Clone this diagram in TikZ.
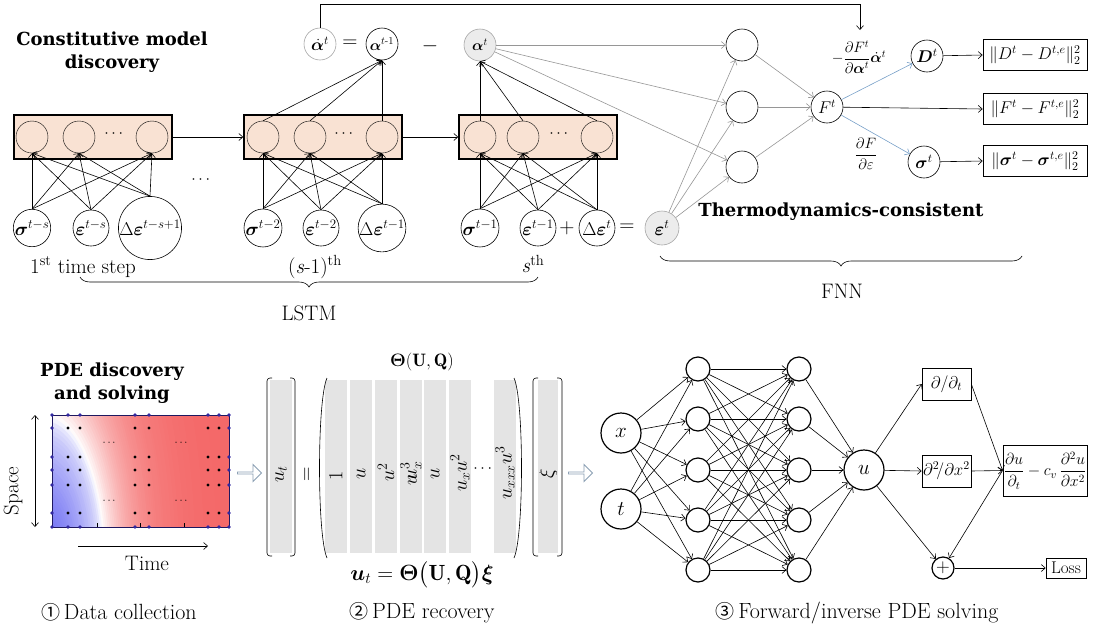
\RequirePackage{fix-cm}
\documentclass[tikz,border=0pt]{standalone}
\usepackage{amsmath,amssymb,bm}
\usepackage{fontspec}
\newfontfamily\titlefont{DejaVu Serif}
\newfontfamily\symfont{Noto Sans CJK SC}
\usetikzlibrary{arrows.meta,decorations.pathreplacing,shapes.arrows,calc}
\definecolor{peach}{RGB}{249,226,211}
\definecolor{fnngray}{RGB}{150,150,150}
\definecolor{lightc}{RGB}{236,236,236}
\definecolor{bluearr}{RGB}{120,160,200}
\definecolor{colgray}{RGB}{228,228,228}
\definecolor{hollow}{RGB}{140,160,180}
\definecolor{heatred}{RGB}{242,80,80}
\definecolor{heatblue}{RGB}{80,80,240}
\definecolor{dotblue}{RGB}{50,40,160}
\tikzset{
  >={Straight Barb[length=4pt,width=7pt]},
  every node/.style={font=\fontsize{16}{18}\selectfont},
  capt/.style={font=\fontsize{21}{23}\selectfont},
  big/.style={font=\fontsize{21}{23}\selectfont},
  ttl/.style={font=\titlefont\bfseries\fontsize{18}{23}\selectfont, align=center},
  lcell/.style={circle,draw,thin,fill=peach,minimum size=32pt,inner sep=0pt},
  lbox/.style={draw,line width=1.5pt,fill=peach,minimum width=158pt,minimum height=44pt,inner sep=0pt},
  incir/.style={circle,draw,minimum size=36pt,inner sep=0pt,font=\fontsize{18.5}{20}\selectfont},
  tcir/.style={circle,draw,minimum size=32pt,inner sep=0pt,font=\fontsize{17}{19}\selectfont},
  gcir/.style={circle,draw=gray!70,fill=lightc,minimum size=34pt,inner sep=0pt,font=\fontsize{18.5}{20}\selectfont},
  lossbox/.style={draw,minimum width=104pt,minimum height=31pt,inner sep=0pt,font=\fontsize{17}{19}\selectfont},
  harrow/.style={single arrow,draw=hollow,fill=white,minimum height=24pt,minimum width=17pt,single arrow head extend=3.5pt,inner sep=0pt,line width=0.9pt},
  rot/.style={rotate=90,font=\fontsize{20}{22}\selectfont},
  pbig/.style={circle,draw,line width=1.2pt,minimum size=40pt,inner sep=0pt,font=\fontsize{21}{23}\selectfont},
  psmall/.style={circle,draw,line width=1.2pt,minimum size=24pt,inner sep=0pt},
  pbox/.style={draw,inner sep=2pt,font=\fontsize{17}{19}\selectfont},
  brc/.style={decorate,decoration={brace,mirror,amplitude=10pt}},
}
\newcommand{\cnum}[1]{{\symfont\fontsize{19}{21}\selectfont #1}}
\begin{document}
\begin{tikzpicture}[x=1pt,y=-1pt,line width=0.6pt]
\useasboundingbox (0,0) rectangle (1093,627);
% ---------- Top: constitutive model ----------
\node[ttl] (title1) at (112,52) {Constitutive model\\discovery};
% LSTM boxes
\node[lbox] (B1) at (93,137) {};
\node[lbox] (B2) at (323,137) {};
\node[lbox] (B3) at (538,137) {};
\node[lcell] (c11) at (32,137) {};
\node[lcell] (c12) at (79,137) {};
\node[lcell] (c13) at (152,137) {};
\node (d1) at (115,134) {$\cdots$};
\node[lcell] (c21) at (263,137) {};
\node[lcell] (c22) at (310,137) {};
\node[lcell] (c23) at (382,137) {};
\node (d2) at (345,134) {$\cdots$};
\node[lcell] (c31) at (480,137) {};
\node[lcell] (c32) at (523,137) {};
\node[lcell] (c33) at (597,137) {};
\node (d3) at (560,134) {$\cdots$};
\draw[->] (B1.east) -- (B2.west);
\draw[->] (B2.east) -- (B3.west);
% inputs
\node[incir] (i11) at (32,228) {$\bm\sigma^{t-s}$};
\node[incir] (i12) at (91,228) {$\bm\varepsilon^{t-s}$};
\node[incir] (i13) at (150,228) {$\Delta\bm\varepsilon^{t-s+1}$};
\node[incir] (i21) at (263,228) {$\bm\sigma^{t-2}$};
\node[incir] (i22) at (321,228) {$\bm\varepsilon^{t-2}$};
\node[incir] (i23) at (382,228) {$\Delta\bm\varepsilon^{t-1}$};
\node[incir] (i31) at (480,228) {$\bm\sigma^{t-1}$};
\node[incir] (i32) at (538,228) {$\bm\varepsilon^{t-1}$};
\node[incir] (i33) at (597,228) {$\Delta\bm\varepsilon^{t}$};
\node[big] (plus1) at (567,228) {$+$};
\node[big] (eq2) at (627,228) {$=$};
\node[gcir] (et) at (662,228) {$\bm\varepsilon^{t}$};
\node (dmid) at (202,180) {$\cdots$};
\foreach \b in {1,2,3}{
  \foreach \i in {1,2,3}{
    \foreach \j in {1,2,3}{
      \draw[->] (i\b\i.north) -- (c\b\j.south);
    }
  }
}
% top row
\node[tcir,draw=gray!70] (ad) at (320,44) {$\dot{\bm\alpha}^t$};
\node[big] (eq1) at (350,44) {$=$};
\node[tcir,font=\fontsize{15}{17}\selectfont] (a1) at (382,44) {$\bm\alpha^{t\text{-}1}$};
\node[big] (minus1) at (430,46) {$-$};
\node[tcir,draw=gray!70,fill=lightc,font=\fontsize{15}{17}\selectfont] (a2) at (480,45) {$\bm\alpha^{t}$};
\foreach \j in {1,2,3}{
  \draw[->] (c2\j.north) -- (a1.south);
  \draw[->] (c3\j.north) -- (a2.south);
}
% feedback
\coordinate (fb2) at (860,4);
\coordinate (fbend) at (860,30);
\draw[->] (ad.north) |- (fb2) -- (fbend);
% FNN
\node[tcir] (h1) at (742,45) {};
\node[tcir] (h2) at (742,107) {};
\node[tcir] (h3) at (742,167) {};
\node[tcir] (F) at (827,107) {$F^t$};
\node[tcir] (D) at (927,56) {$\bm D^t$};
\node[tcir] (S) at (924,162) {$\bm\sigma^t$};
\foreach \h in {h1,h2,h3}{
  \draw[fnngray,->] (a2) -- (\h);
  \draw[fnngray,->] (et) -- (\h);
  \draw[fnngray,->] (\h) -- (F);
}
\draw[bluearr,->] (F) -- (D);
\draw[bluearr,->] (F) -- (S);
\node[lossbox] (L1) at (1035,55) {$\|D^t-D^{t,e}\|_2^2$};
\node[lossbox] (L2) at (1035,109) {$\|F^t-F^{t,e}\|_2^2$};
\node[lossbox] (L3) at (1035,161) {$\|\bm\sigma^t-\bm\sigma^{t,e}\|_2^2$};
\draw[->] (D) -- (L1.west);
\draw[->] (F) -- (L2.west);
\draw[->] (S) -- (L3.west);
\node[font=\fontsize{15}{17}\selectfont] (lab1) at (859,57) {$-\dfrac{\partial F^t}{\partial\bm\alpha^t}\dot{\bm\alpha}^t$};
\node[font=\fontsize{15}{17}\selectfont] (lab2) at (866,154) {$\dfrac{\partial F}{\partial\varepsilon}$};
\node[ttl] (thermo) at (841,212) {Thermodynamics-consistent};
% labels and braces
\node[capt] (step1) at (83,267) {1\textsuperscript{st} time step};
\node[capt] (steps1) at (315,267) {(\textit{s}-1)\textsuperscript{th}};
\node[capt] (steps) at (533,264) {\textit{s}\textsuperscript{th}};
\draw[brc] (80,277) -- (538,277);
\node[capt] (lstm) at (309,313) {LSTM};
\draw[brc] (660,256) -- (1022,256);
\node[capt] (fnn) at (842,291) {FNN};
% ---------- Bottom left: data ----------
\node[ttl] (title2) at (112,383) {PDE discovery\\and solving};
\begin{scope}
\clip (52,415) rectangle (229,527);
\fill[heatred] (52,415) rectangle (229,527);
\foreach \i in {110,109,...,1}{
  \pgfmathsetmacro\rr{\i*0.03}
  \ifnum\i>33
    \pgfmathtruncatemacro\p{88*(1-exp(-(\rr-1)/0.5))}
    \fill[heatred!\p!white] (44,560) ellipse [x radius=\rr*60, y radius=\rr*145];
  \else
    \pgfmathtruncatemacro\p{92*((1-\rr)^0.55)}
    \fill[heatblue!\p!white] (44,560) ellipse [x radius=\rr*60, y radius=\rr*145];
  \fi
}
\end{scope}
\draw[dotblue!60!black,thin] (52,415) rectangle (229,527);
\foreach \x in {97,140,184} \draw[thin] (\x,527) -- (\x,523);
\foreach \x in {52,68,80,135,149,208,219,229}{
  \fill[dotblue] (\x,415) circle (1.8);
  \fill[dotblue] (\x,527) circle (1.8);
}
\foreach \y in {428,457,470,485,513}{
  \fill[dotblue] (52,\y) circle (1.8);
  \fill[dotblue] (229,\y) circle (1.8);
  \foreach \x in {68,80,135,149,208,219} \fill[black] (\x,\y) circle (1.6);
}
\node[font=\fontsize{11}{11}\selectfont] (hd1) at (110,443) {$\cdots$};
\node[font=\fontsize{11}{11}\selectfont] (hd2) at (182,443) {$\cdots$};
\node[font=\fontsize{11}{11}\selectfont] (hd3) at (110,501) {$\cdots$};
\node[font=\fontsize{11}{11}\selectfont] (hd4) at (182,501) {$\cdots$};
\coordinate (sp1) at (35,415);
\coordinate (sp2) at (35,527);
\draw[<->] (sp1) -- (sp2);
\node[capt,rotate=90] (space) at (13,491) {Space};
\coordinate (tm1) at (78,546);
\coordinate (tm2) at (208,546);
\draw[->] (tm1) -- (tm2);
\node[capt] (time) at (147,563) {Time};
\node[capt,font=\fontsize{22}{24}\selectfont] (cap1) at (119,612) {\cnum{①}\,Data collection};
\node[harrow] (ha1) at (249,473) {};
% ---------- Bottom middle: PDE recovery ----------
\fill[colgray] (270,380) rectangle (292,553);
\draw[rounded corners=3pt] (272,378) -- (267,378) -- (267,556) -- (272,556);
\draw[rounded corners=3pt] (290,378) -- (295,378) -- (295,556) -- (290,556);
\node[rot] (ut) at (281,474) {$u_t$};
\node[rot] (eqm) at (308,474) {$=$};
\foreach \a/\b in {325/347,350/372,375/397,400/422,424/446,449/471,494/516}
  \fill[colgray] (\a,380) rectangle (\b,553);
\draw (327,378) .. controls (317,400) and (317,536) .. (327,558);
\draw (514,378) .. controls (524,400) and (524,536) .. (514,558);
\node[rot] (m1) at (336,476) {$1$};
\node[rot] (m2) at (361,474) {$u$};
\node[rot] (m3) at (386,472) {$u^2$};
\node[rot] (m4) at (411,473) {$u\kern-6pt u_x^3$};
\node[rot] (m5) at (435,474) {$u$};
\node[rot] (m6) at (460,473) {$u_xu^2$};
\node (mdots) at (484,469) {$\cdots$};
\node[rot] (m7) at (505,473) {$u_{xxx}u^3$};
\fill[colgray] (538,380) rectangle (558,553);
\draw[rounded corners=3pt] (538,378) -- (533,378) -- (533,556) -- (538,556);
\draw[rounded corners=3pt] (557,378) -- (562,378) -- (562,556) -- (557,556);
\node[rot] (xi) at (548,474) {$\xi$};
\node[font=\fontsize{18}{20}\selectfont] (theta) at (422,362) {$\bm\Theta(\mathbf U,\mathbf Q)$};
\node[font=\fontsize{22}{24}\selectfont] (eqn) at (422,575) {$\bm u_t=\bm\Theta\big(\mathbf U,\mathbf Q\big)\bm\xi$};
\node[capt,font=\fontsize{22}{24}\selectfont] (cap2) at (422,613) {\cnum{②}\,PDE recovery};
\node[harrow] (ha2) at (580,473) {};
% ---------- Bottom right: PINN ----------
\node[pbig] (x) at (621,433) {$x$};
\node[pbig] (t) at (621,509) {$t$};
\foreach \k/\yy in {1/369,2/419,3/470,4/520,5/570}{
  \node[psmall] (p\k) at (698,\yy) {};
  \node[psmall] (q\k) at (799,\yy) {};
}
\node[pbig] (u) at (864,470) {$u$};
\foreach \k in {1,...,5}{
  \draw[->] (x) -- (p\k);
  \draw[->] (t) -- (p\k);
  \draw[->] (q\k) -- (u);
  \foreach \m in {1,...,5} \draw[->] (p\k) -- (q\m);
}
\node[pbox,minimum width=49pt,minimum height=32pt] (DT) at (946.5,384) {$\partial/\partial_t$};
\node[pbox,minimum width=49pt,minimum height=32pt,inner sep=1pt] (DX) at (946.5,471) {$\partial^2\!/\partial x^2$};
\node[pbox,minimum width=84pt,minimum height=51pt,inner sep=1pt,font=\fontsize{16}{18}\selectfont] (BIG) at (1045,470.5) {$\dfrac{\partial u}{\partial_t}-c_v\,\dfrac{\partial^2u}{\partial x^2}$};
\node[circle,draw,line width=1.2pt,minimum size=22pt,inner sep=0pt,font=\fontsize{19}{19}\selectfont] (plus) at (943,568) {$+$};
\node[pbox,minimum width=40pt,minimum height=20pt,inner sep=1pt] (loss) at (1066,568) {Loss};
\draw[->] (u) -- (DT.west);
\draw[->] (u) -- (DX.west);
\draw[->] (u) -- (plus);
\draw[->] (DT.east) -- (BIG.west);
\draw[->] (DX.east) -- (BIG.west);
\draw[->] (BIG.west) -- (plus);
\draw[->] (plus) -- (loss.west);
\node[capt,font=\fontsize{22}{24}\selectfont] (cap3) at (857,613) {\cnum{③}\,Forward/inverse PDE solving};
\end{tikzpicture}
\end{document}
